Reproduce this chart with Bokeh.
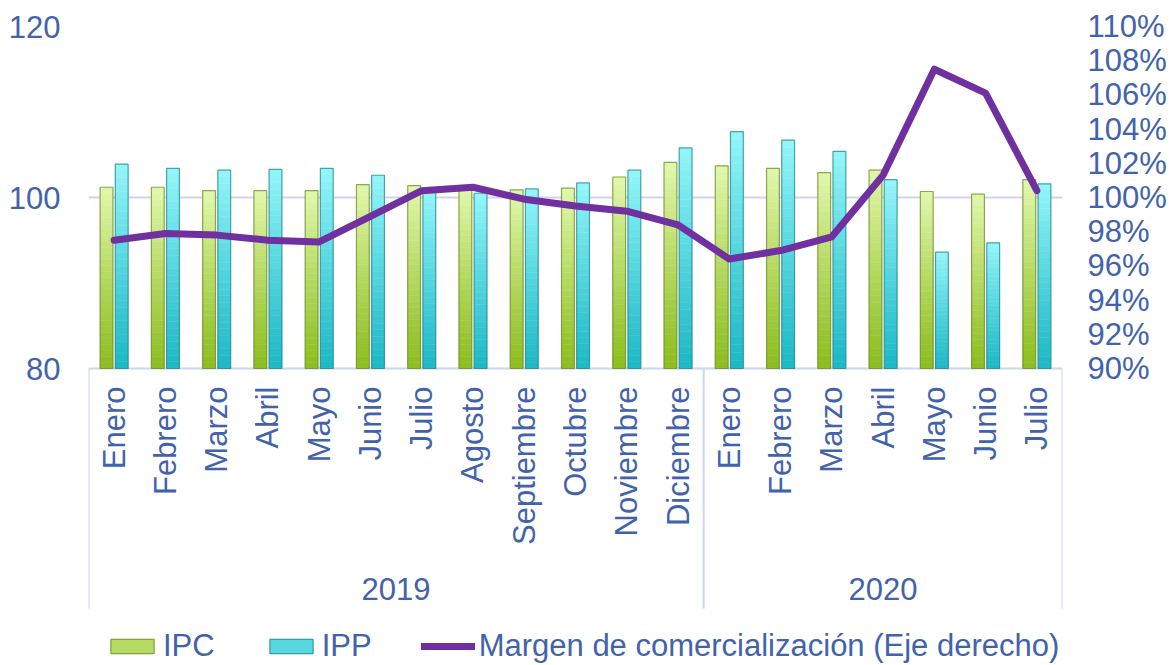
import math
from bokeh.plotting import figure
from bokeh.models import (Range1d, LinearAxis, FixedTicker, PrintfTickFormatter,
                          ColumnDataSource, Legend, LegendItem)
from bokeh.transform import dodge
from bokeh.core.properties import value
from bokeh.embed import file_html
from bokeh.resources import INLINE

# ---------------- data ----------------
months = ["Enero", "Febrero", "Marzo", "Abril", "Mayo", "Junio", "Julio", "Agosto",
          "Septiembre", "Octubre", "Noviembre", "Diciembre",
          "Enero", "Febrero", "Marzo", "Abril", "Mayo", "Junio", "Julio"]
years = ["2019"] * 12 + ["2020"] * 7
ipc = [101.2, 101.2, 100.8, 100.8, 100.8, 101.5, 101.4, 101.2, 100.9, 101.1, 102.4, 104.1,
       103.7, 103.4, 102.9, 103.2, 100.7, 100.4, 102.1]
ipp = [103.9, 103.4, 103.2, 103.3, 103.4, 102.6, 100.8, 100.5, 101.0, 101.7, 103.2, 105.8,
       107.7, 106.7, 105.4, 102.1, 93.6, 94.7, 101.6]
margen = [97.5, 97.9, 97.8, 97.5, 97.4, 98.9, 100.4, 100.6, 99.9, 99.5, 99.2, 98.4,
          96.4, 96.9, 97.7, 101.3, 107.5, 106.1, 100.4]
left_ticks = [80, 100, 120]
right_ticks = [90, 92, 94, 96, 98, 100, 102, 104, 106, 108, 110]

# ---------------- styling / geometry ----------------
FONT = "Liberation Sans"
TXT = "#4263ab"
GRID = "#cdd6ea"
FS = "31px"
W, H = 1170, 664
B_LEFT, B_RIGHT, B_TOP, B_BOTTOM = 88, 108, 26, 0
FRAME_H = H - B_TOP - B_BOTTOM
VALUE_PX = 342.0           # pixel height of the value area (80..120)
BOX_PX = 240.0             # depth of the category box under the axis
L_MIN, L_MAX = 80, 120
R_MIN, R_MAX = 90, 110
y_start = L_MAX - (L_MAX - L_MIN) * FRAME_H / VALUE_PX
r_start = R_MAX - (R_MAX - R_MIN) * FRAME_H / VALUE_PX
box_bottom = L_MIN - (L_MAX - L_MIN) * BOX_PX / VALUE_PX

n = len(months)
idx = list(range(n))

p = figure(width=W, height=H, output_backend="svg", toolbar_location=None,
           x_range=Range1d(-0.5, n - 0.5), y_range=Range1d(y_start, L_MAX),
           x_axis_location=None,
           min_border_left=B_LEFT, min_border_right=B_RIGHT,
           min_border_top=B_TOP, min_border_bottom=B_BOTTOM)
p.outline_line_color = None
p.background_fill_color = "white"
p.border_fill_color = "white"
p.extra_y_ranges = {"pct": Range1d(r_start, R_MAX)}

p.xgrid.visible = False
p.ygrid.ticker = FixedTicker(ticks=left_ticks)
p.ygrid.grid_line_color = GRID
p.ygrid.grid_line_width = 2


def style_axis(ax, standoff):
    ax.axis_line_color = None
    ax.major_tick_line_color = None
    ax.minor_tick_line_color = None
    ax.major_tick_out = 0
    ax.minor_tick_out = 0
    ax.major_tick_in = 0
    ax.minor_tick_in = 0
    ax.major_label_text_font = FONT
    ax.major_label_text_font_size = FS
    ax.major_label_text_color = TXT
    ax.major_label_standoff = standoff


ly = p.yaxis[0]
ly.ticker = FixedTicker(ticks=left_ticks)
style_axis(ly, 28)

ry = LinearAxis(y_range_name="pct", ticker=FixedTicker(ticks=right_ticks),
                formatter=PrintfTickFormatter(format="%d%%"))
style_axis(ry, 25)
p.add_layout(ry, "right")


# ---------------- gradient bars ----------------
def hex2rgb(h):
    h = h.lstrip("#")
    return tuple(int(h[i:i + 2], 16) for i in (0, 2, 4))


def mix(c0, c1, t):
    a, b = hex2rgb(c0), hex2rgb(c1)
    return "#%02x%02x%02x" % tuple(int(round(a[i] + (b[i] - a[i]) * t)) for i in range(3))


NS = 30


def gradient_source(vals, bottom_col, top_col):
    xs, bots, tops, cols = [], [], [], []
    for i, v in enumerate(vals):
        for k in range(NS):
            xs.append(i)
            bots.append(L_MIN + (v - L_MIN) * k / NS)
            tops.append(L_MIN + (v - L_MIN) * (k + 1) / NS)
            cols.append(mix(bottom_col, top_col, ((k + 0.5) / NS) ** 1.1))
    return ColumnDataSource(dict(x=xs, bottom=bots, top=tops, color=cols))


BW = 0.25
OFF = 0.148
src_main = ColumnDataSource(dict(x=idx, ipc=ipc, ipp=ipp, margen=margen,
                                 base=[L_MIN] * n))

grad_renderers = []
edge_renderers = []
for key, off, c_bot, c_top, edge in [("ipc", -OFF, "#8dbd1f", "#e2f8ae", "#6f8c2c"),
                                     ("ipp", OFF, "#1db9c6", "#95f6fa", "#27878f")]:
    vals = ipc if key == "ipc" else ipp
    gs = gradient_source(vals, c_bot, c_top)
    r = p.vbar(x=dodge("x", off, range=p.x_range), width=BW, bottom="bottom", top="top",
               fill_color="color", line_color="color", line_width=0.5, source=gs)
    grad_renderers.append(r)
    e = p.vbar(x=dodge("x", off, range=p.x_range), width=BW, bottom="base", top=key,
               fill_color=None, line_color=edge, line_width=1.2, line_alpha=0.75,
               source=src_main)
    edge_renderers.append(e)

# ---------------- line ----------------
line_r = p.line(x="x", y="margen", y_range_name="pct", source=src_main,
                line_color="#7030a0", line_width=7, line_join="round", line_cap="round")

# ---------------- category box + labels ----------------
bounds = [-0.5]
for i in range(1, n):
    if years[i] != years[i - 1]:
        bounds.append(i - 0.5)
bounds.append(n - 0.5)
p.segment(x0=bounds, x1=bounds, y0=[L_MIN] * len(bounds), y1=[box_bottom] * len(bounds),
          line_color=GRID, line_width=2)

p.text(x=idx, y=[L_MIN] * n, text=months, angle=math.pi / 2, y_offset=18,
       text_align="right", text_baseline="middle", text_font=value(FONT),
       text_font_size=FS, text_color=TXT)

uyears = []
for y in years:
    if y not in uyears:
        uyears.append(y)
ycent = [sum(i for i in idx if years[i] == y) / years.count(y) for y in uyears]
p.text(x=ycent, y=[L_MIN] * len(uyears), text=uyears, y_offset=220,
       text_align="center", text_baseline="middle", text_font=value(FONT),
       text_font_size=FS, text_color=TXT)

# ---------------- legend ----------------
legend = Legend(items=[LegendItem(label="IPC", renderers=[grad_renderers[0], edge_renderers[0]],
                                  index=NS // 2),
                       LegendItem(label="IPP", renderers=[grad_renderers[1], edge_renderers[1]],
                                  index=NS // 2),
                       LegendItem(label="Margen de comercialización (Eje derecho)",
                                  renderers=[line_r])],
                orientation="horizontal", location=(17, 0),
                glyph_width=54, glyph_height=18, label_standoff=4, spacing=49,
                padding=0, margin=0, border_line_color=None,
                background_fill_alpha=0,
                label_text_font=FONT, label_text_font_size=FS, label_text_color=TXT)
p.add_layout(legend, "center")

open("out.html", "w").write(file_html(p, INLINE))
